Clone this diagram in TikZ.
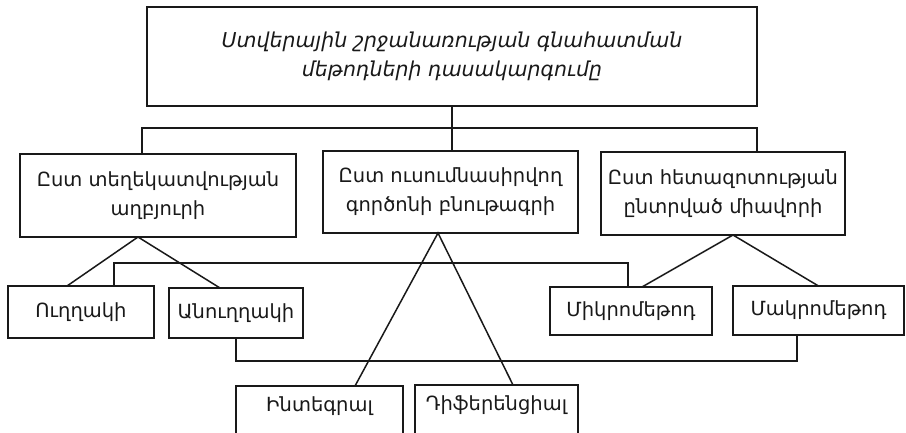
\documentclass[tikz,border=0pt]{standalone}
\usepackage{fontspec}
\setmainfont{DejaVu Sans}
\usetikzlibrary{calc}
\begin{document}
\begin{tikzpicture}[x=1pt,y=-1pt,
  box/.style={draw=black!90, line width=1.5pt, rectangle, inner sep=0pt, outer sep=0pt,
    anchor=north west, align=center, text=black!90, font=\fontsize{19.5}{29}\selectfont},
  lbl/.style={text=black!90, anchor=base, font=\fontsize{19.5}{29}\selectfont},
  conn/.style={draw=black!90, line width=1.5pt}]
\useasboundingbox (0,0) rectangle (906,433);
\clip (0,0) rectangle (906,433);
% title
\node[box, minimum width=610, minimum height=99, font=\itshape\fontsize{20.5}{29}\selectfont] (top) at (147,7)
  {Ստվերային շրջանառության գնահատման\\մեթոդների դասակարգումը};
% level 2
\node[box, minimum width=276, minimum height=83] (lb) at (20,154) {Ըստ տեղեկատվության\\աղբյուրի};
\node[box, minimum width=255, minimum height=82] (mb) at (323,151) {Ըստ ուսումնասիրվող\\գործոնի բնութագրի};
\node[box, minimum width=244, minimum height=83] (rb) at (601,152) {Ըստ հետազոտության\\ընտրված միավորի};
% level 3
\node[box, minimum width=146, minimum height=52] (dir) at (8,286) {Ուղղակի};
\node[box, minimum width=134, minimum height=50] (ind) at (169,288) {Անուղղակի};
\node[box, minimum width=162, minimum height=48] (mic) at (550,287) {Միկրոմեթոդ};
\node[box, minimum width=171, minimum height=49] (mac) at (733,286) {Մակրոմեթոդ};
\node[box, minimum width=167, minimum height=52] (int) at (236,386) {};
\node[box, minimum width=163, minimum height=52] (dif) at (415,385) {};
\node[lbl] (intt) at ($(int.north)+(0,25)$) {Ինտեգրալ};
\node[lbl] (dift) at ($(dif.north)+(0,25)$) {Դիֆերենցիալ};
% tree connectors
\coordinate (bus) at ($(top.south)+(0,22)$);
\coordinate (ltap) at ([xshift=122]lb.north west);
\coordinate (rtap) at ([xshift=-88]rb.north east);
\draw[conn] (top.south) -- (bus);
\draw[conn] (ltap) |- (bus) -| (rtap);
\draw[conn] (bus) -- (mb.north -| bus);
% fans
\draw[conn] ([xshift=-14]dir.north) -- ([xshift=-20]lb.south) -- ([xshift=-16]ind.north);
\draw[conn] ([xshift=35.5]int.north) -- ([xshift=-12.5]mb.south) -- ([xshift=16.5]dif.north);
\draw[conn] ([xshift=11]mic.north) -- ([xshift=10]rb.south) -- (mac.north);
% cross links
\draw[conn] ([xshift=33]dir.north) -- ++(0,-23) -| ([xshift=-3]mic.north);
\draw[conn] (ind.south) -- ++(0,23) -| ([xshift=-21.5]mac.south);
\end{tikzpicture}
\end{document}
